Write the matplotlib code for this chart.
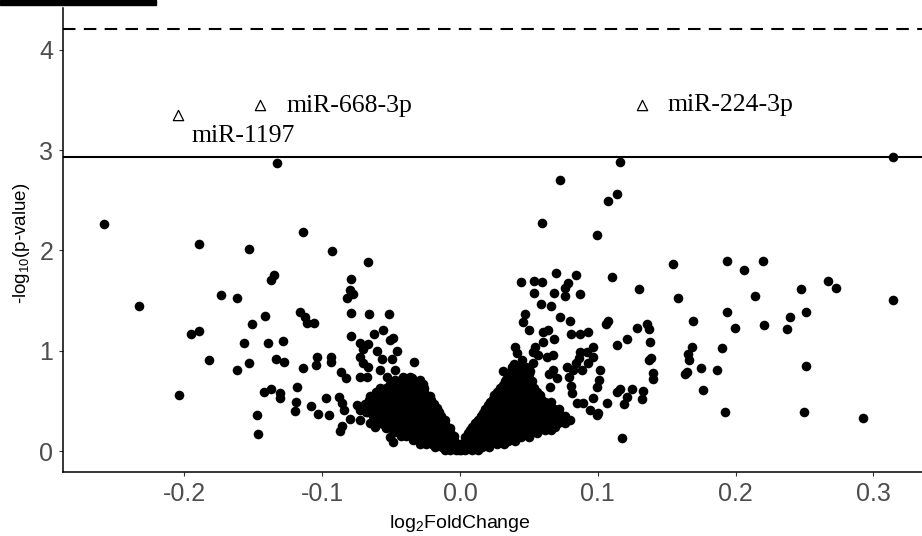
import numpy as np
import matplotlib
matplotlib.use('Agg')
import matplotlib.pyplot as plt
from matplotlib.patches import Rectangle

plt.rcParams['font.family'] = ['Liberation Sans', 'DejaVu Sans']
plt.rcParams['mathtext.default'] = 'regular'

# scattered points (log2FoldChange, -log10 p)
left_pts = [
    (-0.2586, 2.263), (-0.2332, 1.443), (-0.1892, 2.064), (-0.1531, 2.017), (-0.1139, 2.180),
    (-0.0927, 1.994), (-0.0670, 1.887), (-0.0789, 1.712), (-0.1348, 1.755), (-0.1374, 1.705),
    (-0.0798, 1.605), (-0.0818, 1.522), (-0.0779, 1.565), (-0.1737, 1.552), (-0.1618, 1.525),
    (-0.0789, 1.379), (-0.0663, 1.363), (-0.0515, 1.363), (-0.1163, 1.383), (-0.1125, 1.333),
    (-0.1112, 1.279), (-0.1060, 1.279), (-0.1413, 1.349), (-0.1512, 1.266), (-0.1892, 1.199),
    (-0.1952, 1.163), (-0.1570, 1.080), (-0.1395, 1.077), (-0.1287, 1.094), (-0.1824, 0.904),
    (-0.1531, 0.880), (-0.1618, 0.811), (-0.1335, 0.917), (-0.1277, 0.884), (-0.1040, 0.937),
    (-0.1045, 0.854), (-0.0936, 0.934), (-0.0934, 0.890), (-0.1139, 0.825), (-0.0864, 0.791),
    (-0.0829, 0.725), (-0.0791, 1.144), (-0.0724, 1.077), (-0.0665, 1.070), (-0.0706, 1.014),
    (-0.0622, 1.169), (-0.0559, 1.209), (-0.0508, 1.107), (-0.0484, 1.127), (-0.0604, 1.000),
    (-0.0564, 0.917), (-0.0496, 0.917), (-0.0455, 1.000), (-0.0334, 0.887), (-0.0346, 0.728),
    (-0.0283, 0.665), (-0.2039, 0.555), (-0.1425, 0.585), (-0.1374, 0.615), (-0.1306, 0.575),
    (-0.1306, 0.525), (-0.1185, 0.641), (-0.1190, 0.492), (-0.1200, 0.399), (-0.1081, 0.446),
    (-0.1033, 0.369), (-0.0972, 0.525), (-0.0953, 0.356), (-0.0878, 0.541), (-0.0858, 0.476),
    (-0.0840, 0.409), (-0.0873, 0.202), (-0.0856, 0.252), (-0.0800, 0.316), (-0.1473, 0.356),
    (-0.1464, 0.167), (-0.0726, 0.409), (-0.0726, 0.309), (-0.0750, 0.459), (-0.1328, 2.871),
    (-0.0726, 0.935), (-0.0702, 0.874), (-0.0665, 0.840), (-0.0726, 0.741), (-0.0673, 0.741),
    (-0.0581, 0.808), (-0.0532, 0.741), (-0.0472, 0.808), (-0.0411, 0.741), (-0.0363, 0.741),
    (-0.0278, 0.658), (-0.0713, 0.441), (-0.0677, 0.392), (-0.0653, 0.276), (-0.0617, 0.242),
    (-0.0508, 0.143), (-0.0484, 0.093),
]

right_pts = [
    (0.1163, 2.878), (0.0724, 2.705), (0.1137, 2.559), (0.1076, 2.493), (0.0597, 2.276),
    (0.0996, 2.157), (0.1544, 1.861), (0.1105, 1.738), (0.1584, 1.525), (0.1299, 1.618),
    (0.0694, 1.778), (0.0844, 1.752), (0.0443, 1.685), (0.0537, 1.692), (0.0597, 1.688),
    (0.0782, 1.678), (0.0764, 1.622), (0.0760, 1.548), (0.0537, 1.572), (0.0682, 1.578),
    (0.0871, 1.565), (0.0590, 1.469), (0.0658, 1.446), (0.0470, 1.366), (0.0455, 1.286),
    (0.0503, 1.206), (0.0726, 1.339), (0.0800, 1.296), (0.1062, 1.269), (0.1076, 1.293),
    (0.0604, 1.189), (0.0641, 1.206), (0.0808, 1.164), (0.0871, 1.164), (0.0931, 1.189),
    (0.1282, 1.229), (0.1355, 1.266), (0.1369, 1.213), (0.1137, 1.054), (0.1212, 1.120),
    (0.1379, 1.084), (0.1372, 0.907), (0.1384, 0.924), (0.1398, 0.781), (0.1401, 0.715),
    (0.0682, 1.120), (0.0401, 1.034), (0.0416, 0.974), (0.0546, 1.040), (0.0604, 1.084),
    (0.0532, 0.987), (0.0677, 0.957), (0.0871, 0.990), (0.0919, 0.990), (0.0967, 1.034),
    (0.0840, 0.874), (0.0866, 0.924), (0.0967, 0.940), (0.1016, 0.808), (0.1006, 0.708),
    (0.0992, 0.641), (0.0789, 0.741), (0.0803, 0.651), (0.0648, 0.765), (0.0310, 0.801),
    (0.0332, 0.708), (0.1137, 0.591), (0.1161, 0.615), (0.1210, 0.541), (0.1250, 0.615),
    (0.1330, 0.601), (0.1321, 0.515), (0.1192, 0.466), (0.1065, 0.476), (0.1004, 0.376),
    (0.0847, 0.476), (0.1176, 0.130), (0.1935, 1.897), (0.2061, 1.805), (0.2199, 1.897),
    (0.2141, 1.548), (0.2472, 1.615), (0.2668, 1.698), (0.2729, 1.628), (0.3144, 1.508),
    (0.1935, 1.389), (0.1693, 1.296), (0.1993, 1.226), (0.2208, 1.253), (0.2395, 1.336),
    (0.2375, 1.213), (0.2513, 1.389), (0.1681, 1.040), (0.1652, 0.964), (0.1664, 0.907),
    (0.1650, 0.791), (0.1633, 0.765), (0.1749, 0.828), (0.1899, 1.027), (0.1863, 0.808),
    (0.1761, 0.608), (0.2513, 0.850), (0.1925, 0.392), (0.2494, 0.392), (0.2922, 0.326),
    (0.3142, 2.931), (0.0822, 0.808), (0.0774, 0.840), (0.0883, 0.808), (0.0931, 0.874),
    (0.0967, 0.525), (0.0810, 0.575), (0.0895, 0.476), (0.0943, 0.409), (0.0992, 0.359),
    (0.0798, 0.309), (0.0677, 0.808), (0.0702, 0.725), (0.0653, 0.641), (0.0568, 0.957),
    (0.0532, 0.874), (0.0629, 0.940), (0.0450, 0.905), (0.0395, 0.870),
]

# dense core near zero, read row by row
core_left = [
    (-0.047, 0.708), (-0.043, 0.708), (-0.038, 0.708), (-0.034, 0.708), (-0.029, 0.708),
    (-0.051, 0.668), (-0.046, 0.668), (-0.041, 0.668), (-0.036, 0.668), (-0.031, 0.668),
    (-0.027, 0.668),
    (-0.058, 0.628), (-0.054, 0.628), (-0.049, 0.628), (-0.045, 0.628), (-0.040, 0.628),
    (-0.036, 0.628), (-0.031, 0.628), (-0.026, 0.628),
    (-0.061, 0.588), (-0.056, 0.588), (-0.051, 0.588), (-0.046, 0.588), (-0.041, 0.588),
    (-0.036, 0.588), (-0.031, 0.588), (-0.026, 0.588),
    (-0.065, 0.548), (-0.061, 0.548), (-0.056, 0.548), (-0.052, 0.548), (-0.047, 0.548),
    (-0.043, 0.548), (-0.038, 0.548), (-0.034, 0.548), (-0.029, 0.548), (-0.025, 0.548),
    (-0.022, 0.548),
    (-0.066, 0.508), (-0.061, 0.508), (-0.056, 0.508), (-0.051, 0.508), (-0.046, 0.508),
    (-0.041, 0.508), (-0.036, 0.508), (-0.031, 0.508), (-0.026, 0.508), (-0.021, 0.508),
    (-0.069, 0.469), (-0.064, 0.469), (-0.060, 0.469), (-0.055, 0.469), (-0.051, 0.469),
    (-0.046, 0.469), (-0.042, 0.469), (-0.037, 0.469), (-0.033, 0.469), (-0.028, 0.469),
    (-0.024, 0.469), (-0.019, 0.469),
    (-0.066, 0.429), (-0.061, 0.429), (-0.056, 0.429), (-0.051, 0.429), (-0.046, 0.429),
    (-0.041, 0.429), (-0.036, 0.429), (-0.031, 0.429), (-0.026, 0.429), (-0.021, 0.429),
    (-0.017, 0.429),
    (-0.068, 0.389), (-0.063, 0.389), (-0.059, 0.389), (-0.054, 0.389), (-0.050, 0.389),
    (-0.045, 0.389), (-0.041, 0.389), (-0.036, 0.389), (-0.032, 0.389), (-0.027, 0.389),
    (-0.023, 0.389), (-0.018, 0.389), (-0.015, 0.389),
    (-0.063, 0.349), (-0.058, 0.349), (-0.053, 0.349), (-0.048, 0.349), (-0.043, 0.349),
    (-0.038, 0.349), (-0.033, 0.349), (-0.028, 0.349), (-0.023, 0.349), (-0.018, 0.349),
    (-0.014, 0.349),
    (-0.061, 0.309), (-0.057, 0.309), (-0.052, 0.309), (-0.048, 0.309), (-0.043, 0.309),
    (-0.039, 0.309), (-0.034, 0.309), (-0.030, 0.309), (-0.025, 0.309), (-0.021, 0.309),
    (-0.016, 0.309), (-0.011, 0.309),
    (-0.056, 0.269), (-0.051, 0.269), (-0.046, 0.269), (-0.041, 0.269), (-0.036, 0.269),
    (-0.031, 0.269), (-0.026, 0.269), (-0.021, 0.269), (-0.016, 0.269), (-0.011, 0.269),
    (-0.054, 0.229), (-0.050, 0.229), (-0.045, 0.229), (-0.041, 0.229), (-0.036, 0.229),
    (-0.032, 0.229), (-0.027, 0.229), (-0.023, 0.229), (-0.018, 0.229), (-0.014, 0.229),
    (-0.009, 0.229), (-0.007, 0.229),
    (-0.047, 0.190), (-0.042, 0.190), (-0.037, 0.190), (-0.032, 0.190), (-0.027, 0.190),
    (-0.022, 0.190), (-0.017, 0.190), (-0.012, 0.190), (-0.007, 0.190),
    (-0.043, 0.150), (-0.039, 0.150), (-0.034, 0.150), (-0.030, 0.150), (-0.025, 0.150),
    (-0.021, 0.150), (-0.016, 0.150), (-0.012, 0.150), (-0.007, 0.150), (-0.004, 0.150),
    (-0.034, 0.110), (-0.029, 0.110), (-0.024, 0.110), (-0.019, 0.110), (-0.014, 0.110),
    (-0.009, 0.110), (-0.004, 0.110),
    (-0.029, 0.070), (-0.025, 0.070), (-0.020, 0.070), (-0.016, 0.070), (-0.011, 0.070),
    (-0.007, 0.070), (-0.003, 0.070), (0.000, 0.070),
    (-0.018, 0.040), (-0.013, 0.040), (-0.008, 0.040), (-0.003, 0.040),
    (-0.011, 0.010), (-0.007, 0.010), (-0.003, 0.010), (0.001, 0.010),
]

core_right = [
    (-0.001, 0.010), (0.004, 0.010), (0.009, 0.010), (0.013, 0.010),
    (0.001, 0.040), (0.006, 0.040), (0.011, 0.040), (0.016, 0.040), (0.021, 0.040),
    (0.002, 0.070), (0.007, 0.070), (0.012, 0.070), (0.017, 0.070), (0.022, 0.070),
    (0.027, 0.070), (0.032, 0.070),
    (0.005, 0.105), (0.010, 0.105), (0.015, 0.105), (0.020, 0.105), (0.025, 0.105),
    (0.030, 0.105), (0.035, 0.105), (0.040, 0.105),
    (0.004, 0.140), (0.009, 0.140), (0.014, 0.140), (0.019, 0.140), (0.024, 0.140),
    (0.029, 0.140), (0.034, 0.140), (0.039, 0.140), (0.044, 0.140), (0.050, 0.140),
    (0.006, 0.175), (0.011, 0.175), (0.016, 0.175), (0.021, 0.175), (0.026, 0.175),
    (0.031, 0.175), (0.036, 0.175), (0.041, 0.175), (0.046, 0.175), (0.051, 0.175),
    (0.056, 0.175),
    (0.007, 0.209), (0.012, 0.209), (0.017, 0.209), (0.022, 0.209), (0.027, 0.209),
    (0.032, 0.209), (0.037, 0.209), (0.042, 0.209), (0.047, 0.209), (0.052, 0.209),
    (0.057, 0.209), (0.062, 0.209), (0.066, 0.209),
    (0.009, 0.244), (0.014, 0.244), (0.019, 0.244), (0.024, 0.244), (0.029, 0.244),
    (0.034, 0.244), (0.039, 0.244), (0.044, 0.244), (0.049, 0.244), (0.054, 0.244),
    (0.059, 0.244), (0.064, 0.244), (0.069, 0.244),
    (0.011, 0.279), (0.016, 0.279), (0.021, 0.279), (0.026, 0.279), (0.031, 0.279),
    (0.036, 0.279), (0.041, 0.279), (0.046, 0.279), (0.051, 0.279), (0.056, 0.279),
    (0.061, 0.279), (0.066, 0.279), (0.071, 0.279), (0.076, 0.279),
    (0.013, 0.314), (0.018, 0.314), (0.023, 0.314), (0.028, 0.314), (0.033, 0.314),
    (0.038, 0.314), (0.043, 0.314), (0.048, 0.314), (0.053, 0.314), (0.058, 0.314),
    (0.063, 0.314), (0.068, 0.314), (0.073, 0.314),
    (0.015, 0.349), (0.020, 0.349), (0.025, 0.349), (0.030, 0.349), (0.035, 0.349),
    (0.040, 0.349), (0.045, 0.349), (0.050, 0.349), (0.055, 0.349), (0.060, 0.349),
    (0.065, 0.349), (0.070, 0.349), (0.076, 0.349),
    (0.017, 0.384), (0.022, 0.384), (0.027, 0.384), (0.032, 0.384), (0.037, 0.384),
    (0.042, 0.384), (0.047, 0.384), (0.052, 0.384), (0.057, 0.384), (0.062, 0.384),
    (0.067, 0.384), (0.072, 0.384),
    (0.018, 0.419), (0.023, 0.419), (0.028, 0.419), (0.033, 0.419), (0.038, 0.419),
    (0.043, 0.419), (0.048, 0.419), (0.053, 0.419), (0.058, 0.419), (0.063, 0.419),
    (0.068, 0.419), (0.072, 0.419),
    (0.020, 0.454), (0.025, 0.454), (0.030, 0.454), (0.035, 0.454), (0.040, 0.454),
    (0.045, 0.454), (0.050, 0.454), (0.055, 0.454), (0.060, 0.454), (0.065, 0.454),
    (0.022, 0.489), (0.027, 0.489), (0.032, 0.489), (0.037, 0.489), (0.042, 0.489),
    (0.047, 0.489), (0.052, 0.489), (0.057, 0.489), (0.062, 0.489), (0.066, 0.489),
    (0.024, 0.523), (0.029, 0.523), (0.034, 0.523), (0.039, 0.523), (0.044, 0.523),
    (0.049, 0.523), (0.054, 0.523), (0.059, 0.523),
    (0.025, 0.558), (0.030, 0.558), (0.035, 0.558), (0.040, 0.558), (0.045, 0.558),
    (0.050, 0.558), (0.055, 0.558), (0.058, 0.558),
    (0.027, 0.593), (0.032, 0.593), (0.037, 0.593), (0.042, 0.593), (0.047, 0.593),
    (0.052, 0.593), (0.056, 0.593),
    (0.029, 0.628), (0.034, 0.628), (0.039, 0.628), (0.044, 0.628), (0.049, 0.628),
    (0.054, 0.628),
    (0.031, 0.663), (0.036, 0.663), (0.041, 0.663), (0.046, 0.663), (0.051, 0.663),
    (0.033, 0.698), (0.038, 0.698), (0.043, 0.698), (0.048, 0.698), (0.052, 0.698),
    (0.034, 0.733), (0.039, 0.733), (0.044, 0.733), (0.049, 0.733),
    (0.035, 0.768), (0.040, 0.768), (0.045, 0.768), (0.050, 0.768),
    (0.037, 0.802), (0.042, 0.802), (0.047, 0.802), (0.051, 0.802),
    (0.038, 0.837), (0.043, 0.837), (0.048, 0.837),
]

# labelled miRNAs (open triangles)
sig_names = ['miR-1197', 'miR-668-3p', 'miR-224-3p']
sig_fc = [-0.2045, -0.1451, 0.1318]
sig_p = [3.350, 3.450, 3.450]
label_x = [-0.1947, -0.1258, 0.1509]
label_y = [3.081, 3.383, 3.393]

p_line_solid = 2.931
p_line_dashed = 4.207

pts = np.array(left_pts + right_pts + core_left + core_right)

fig = plt.figure(figsize=(9.22, 5.36), dpi=100)
ax = fig.add_axes([63 / 922, 64 / 536, 859 / 922, 464 / 536])

ax.scatter(pts[:, 0], pts[:, 1], s=48, c='black', linewidths=0, zorder=3)
ax.scatter(sig_fc, sig_p, marker='^', s=55, facecolors='white',
           edgecolors='black', linewidths=0.9, zorder=4)

ax.axhline(p_line_solid, color='black', lw=1.5, zorder=2)
ax.axhline(p_line_dashed, color='black', lw=1.5, dashes=(6, 4), zorder=2)

for name, x, y in zip(sig_names, label_x, label_y):
    t = ax.text(x, y, name, family=['Liberation Serif', 'DejaVu Serif'],
                fontsize=18.5, ha='left', va='baseline', zorder=5)
    if name == 'miR-668-3p':
        # the reference cuts the descender of this label
        t.set_clip_path(Rectangle((0, 1 - 113 / 536), 1, 0.2,
                                  transform=fig.transFigure))

ax.set_xlim(-0.2881, 0.3353)
ax.set_ylim(-0.209, 4.417)
ax.set_xticks([-0.2, -0.1, 0.0, 0.1, 0.2, 0.3])
ax.set_xticklabels(['-0.2', '-0.1', '0.0', '0.1', '0.2', '0.3'])
ax.set_yticks([0, 1, 2, 3, 4])
ax.tick_params(axis='both', labelsize=18, labelcolor='#4D4D4D',
               color='#333333', length=3, width=0.8, pad=4)
for side in ['top', 'right']:
    ax.spines[side].set_visible(False)
for side in ['left', 'bottom']:
    ax.spines[side].set_linewidth(1.1)
    ax.spines[side].set_color('black')

fig.text(460 / 922, 1 - 523 / 536, 'log$_2$FoldChange', fontsize=14,
         ha='center', va='center')
fig.text(21 / 922, 1 - 243 / 536, '-log$_{10}$(p-value)', fontsize=13.5,
         rotation=90, ha='center', va='center')

# black bar at top-left
fig.patches.append(Rectangle((0, 1 - 5 / 536), 156 / 922, 5 / 536,
                             transform=fig.transFigure, color='black'))

fig.savefig('out.png', dpi=100)
